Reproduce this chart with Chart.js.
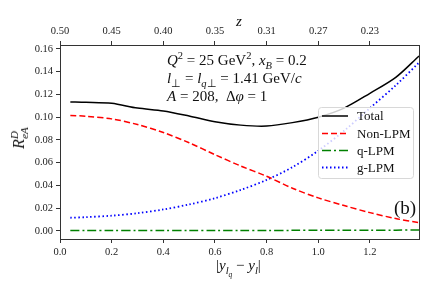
<!DOCTYPE html>
<html>
<head>
<meta charset="utf-8">
<script src="https://cdn.jsdelivr.net/npm/chart.js@4.4.1/dist/chart.umd.min.js"></script>
<style>
    body { margin: 0; background: #fff; }
    #wrap { position: relative; width: 436px; height: 291px; font-family: "Liberation Serif", serif; color: #111; }
    #grafico { position: absolute; left: 0; top: 0; }
    .txt { position: absolute; white-space: nowrap; line-height: 1; font-weight: 400; }
    .m { font-style: italic; }
    sub, sup { font-size: 70%; line-height: 0; }
</style>
</head>
<body>
<div id="wrap">
    <canvas id="grafico" width="436" height="291"></canvas>
    <div class="txt m" style="left:236px; top:14px; font-size:15px;">z</div>
    <div class="txt" style="left:167px; top:53px; font-size:15px;"><span class="m">Q</span><sup>2</sup> = 25 GeV<sup>2</sup>, <span class="m">x<sub>B</sub></span> = 0.2</div>
    <div class="txt" style="left:167px; top:71px; font-size:15px;"><span class="m">l</span><sub>⊥</sub> = <span class="m">l<sub>q</sub></span><sub>⊥</sub> = 1.41 GeV/<span class="m">c</span></div>
    <div class="txt" style="left:167px; top:89px; font-size:15px;"><span class="m">A</span> = 208,&nbsp; Δ<span class="m">φ</span> = 1</div>
    <div class="txt" style="left:394px; top:198px; font-size:19px;">(b)</div>
    <div class="txt" style="left:216px; top:258px; font-size:15px;">|<span class="m">y<sub>l<sub>q</sub></sub></span> − <span class="m">y<sub>l</sub></span>|</div>
    <div class="txt" style="left:19px; top:138px; font-size:16px; transform: translate(-50%,-50%) rotate(-90deg);"><span class="m">R</span><sup class="m">D</sup><sub class="m" style="margin-left:-8px;">eA</sub></div>
</div>
<script>
// valores
const yDiff = [0.04, 0.1, 0.2, 0.3, 0.4, 0.5, 0.6, 0.7, 0.8, 0.9, 1.0, 1.1, 1.2, 1.3, 1.39];
const total = [0.1134, 0.1131, 0.1122, 0.1080, 0.1055, 0.1010, 0.0960, 0.0930, 0.0922, 0.0952, 0.1000, 0.1080, 0.1210, 0.1350, 0.1538];
const nonLPM = [0.1015, 0.1008, 0.0985, 0.0935, 0.0865, 0.0775, 0.0670, 0.0570, 0.0480, 0.0375, 0.0290, 0.0222, 0.0160, 0.0108, 0.0072];
const qLPM = [0.0002, 0.0002, 0.0002, 0.0002, 0.0002, 0.0003, 0.0003, 0.0003, 0.0003, 0.0004, 0.0004, 0.0005, 0.0005, 0.0006, 0.0007];
const gLPM = [0.0115, 0.0120, 0.0133, 0.0155, 0.0188, 0.0232, 0.0287, 0.0360, 0.0448, 0.0560, 0.0705, 0.0880, 0.1080, 0.1280, 0.1480];

const xTicks = [0.0, 0.2, 0.4, 0.6, 0.8, 1.0, 1.2];
const zTicks = ['0.50', '0.45', '0.40', '0.35', '0.31', '0.27', '0.23'];
const yTicks = [0.00, 0.02, 0.04, 0.06, 0.08, 0.10, 0.12, 0.14, 0.16];

const nombres = ['Total', 'Non-LPM', 'q-LPM', 'g-LPM'];
const series = [total, nonLPM, qLPM, gLPM];
const colores = ['#000000', '#ff0000', '#008000', '#0000ff'];
const guiones = [[], [6, 3], [9, 3, 2, 3], [1.5, 2.5]];

const fuenteTicks = { family: 'Liberation Serif', size: 10.5 };
const colorEje = '#333';

const datasets = series.map((s, i) => ({
    label: nombres[i],
    data: yDiff.map((x, j) => ({ x: x, y: s[j] })),
    borderColor: colores[i],
    borderWidth: i === 3 ? 1.8 : 1.5,
    borderDash: guiones[i],
    pointRadius: 0,
    tension: 0.3,
    fill: false
}));

// leyenda dentro del área y borde derecho
const leyendaPlugin = {
    id: 'leyenda',
    afterDatasetsDraw(chart) {
        const ctx = chart.ctx;
        const a = chart.chartArea;
        ctx.save();
        ctx.strokeStyle = colorEje;
        ctx.lineWidth = 1;
        ctx.beginPath();
        ctx.moveTo(a.right + 0.5, a.top);
        ctx.lineTo(a.right + 0.5, a.bottom);
        ctx.stroke();

        const x0 = 318, y0 = 107, w = 95, h = 71, r = 3;
        ctx.beginPath();
        ctx.roundRect(x0 + 0.5, y0 + 0.5, w, h, r);
        ctx.fillStyle = 'rgba(255,255,255,0.8)';
        ctx.fill();
        ctx.strokeStyle = '#d8d8d8';
        ctx.stroke();

        const filas = [116, 133.5, 150.5, 167.5];
        nombres.forEach((n, i) => {
            ctx.beginPath();
            ctx.setLineDash(guiones[i]);
            ctx.strokeStyle = colores[i];
            ctx.lineWidth = i === 3 ? 1.8 : 1.5;
            ctx.moveTo(322, filas[i]);
            ctx.lineTo(348, filas[i]);
            ctx.stroke();
            ctx.setLineDash([]);
            ctx.fillStyle = '#111';
            ctx.font = '13px "Liberation Serif"';
            ctx.textBaseline = 'middle';
            ctx.fillText(n, 357, filas[i] + 1);
        });
        ctx.restore();
    }
};

new Chart(document.getElementById('grafico').getContext('2d'), {
    type: 'line',
    data: { datasets: datasets },
    options: {
        responsive: false,
        animation: false,
        layout: { padding: { left: 0, right: 17, top: 0, bottom: 0 } },
        plugins: { legend: { display: false }, tooltip: { enabled: false } },
        scales: {
            x: {
                type: 'linear', position: 'bottom', min: 0, max: 1.39,
                afterBuildTicks: s => { s.ticks = xTicks.map(v => ({ value: v })); },
                afterFit: s => { s.height = 52; },
                ticks: { font: fuenteTicks, color: '#222', padding: 3, maxRotation: 0, callback: v => v.toFixed(1) },
                grid: { drawOnChartArea: false, drawTicks: true, tickLength: 4, tickColor: colorEje },
                border: { display: true, color: colorEje, width: 1 }
            },
            x2: {
                type: 'linear', position: 'top', min: 0, max: 1.39,
                afterBuildTicks: s => { s.ticks = xTicks.map(v => ({ value: v })); },
                afterFit: s => { s.height = 45; },
                ticks: { font: fuenteTicks, color: '#222', padding: 3, maxRotation: 0, callback: (v, i) => zTicks[i] },
                grid: { drawOnChartArea: false, drawTicks: true, tickLength: 4, tickColor: colorEje },
                border: { display: true, color: colorEje, width: 1 }
            },
            y: {
                type: 'linear', min: -0.0072, max: 0.1635,
                afterBuildTicks: s => { s.ticks = yTicks.map(v => ({ value: v })); },
                afterFit: s => { s.width = 60; },
                ticks: { font: fuenteTicks, color: '#222', padding: 3, callback: v => v.toFixed(2) },
                grid: { drawOnChartArea: false, drawTicks: true, tickLength: 4, tickColor: colorEje },
                border: { display: true, color: colorEje, width: 1 }
            }
        }
    },
    plugins: [leyendaPlugin]
});
</script>
</body>
</html>
